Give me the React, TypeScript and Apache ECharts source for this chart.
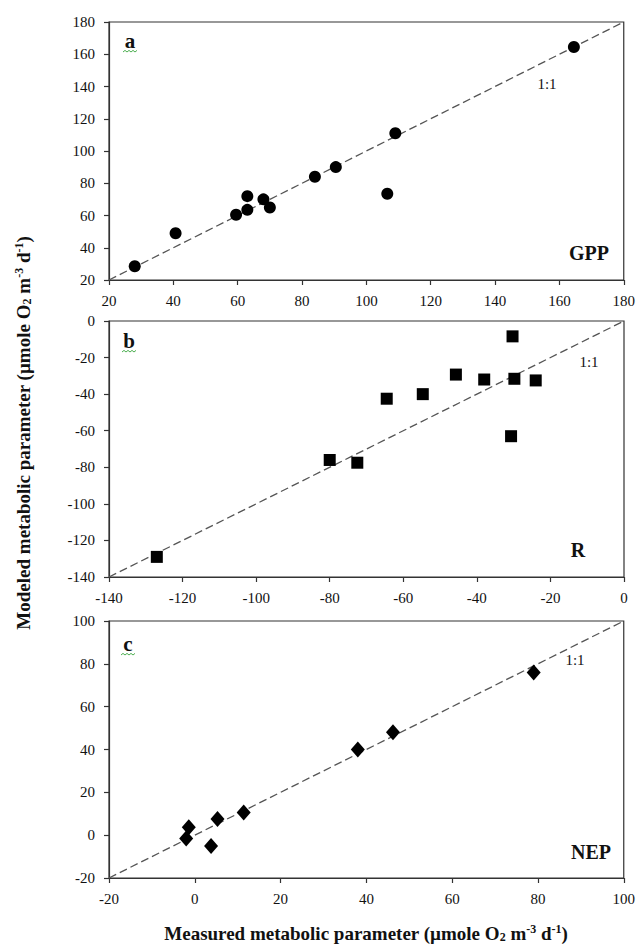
import React, { useEffect, useRef } from "react";
import * as echarts from "echarts";

// ---- data ----
const gppMeasured = [28, 40.7, 59.5, 63, 63, 68, 70, 84, 90.5, 106.5, 109, 164.5];
const gppModeled = [28.5, 49, 60.5, 72, 63.5, 70, 65, 84, 90, 73.5, 111, 164.5];

const rMeasured = [-127, -80, -72.5, -64.5, -54.7, -45.7, -38, -30.3, -29.8, -30.7, -24];
const rModeled = [-129, -76, -77.5, -42.5, -40, -29.3, -32, -8.4, -31.6, -63, -32.5];

const nepMeasured = [-1.4, -2, 3.8, 5.3, 11.4, 38, 46.2, 79];
const nepModeled = [3.7, -1.5, -5, 7.6, 10.6, 40, 48, 76];

const gppRange = [20, 180];
const rRange = [-140, 0];
const nepRange = [-20, 100];
const tickStep = 20;

const panelLetters = ["a", "b", "c"];
const panelNames = ["GPP", "R", "NEP"];
const oneToOneLabel = "1:1";

const FONT = '"Liberation Serif", "Times New Roman", serif';
const INK = "#111";
const AXIS = "#333";

export default function App() {
  const ref = useRef<HTMLDivElement>(null);

  useEffect(() => {
    if (!ref.current) return;
    const chart = echarts.init(ref.current, null, { renderer: "svg" });

    const panels = [
      { m: gppMeasured, p: gppModeled, range: gppRange, symbol: "circle", size: 12, top: 22, height: 258 },
      { m: rMeasured, p: rModeled, range: rRange, symbol: "rect", size: 12, top: 321, height: 256 },
      { m: nepMeasured, p: nepModeled, range: nepRange, symbol: "diamond", size: [14, 16], top: 621, height: 257 },
    ];

    const gridLeft = 109;
    const gridWidth = 515;

    const axisCommon = (i: number, range: number[], margin: number) => ({
      gridIndex: i,
      type: "value",
      min: range[0],
      max: range[1],
      interval: tickStep,
      axisLine: { show: true, onZero: false, lineStyle: { color: AXIS, width: 1.2 } },
      axisTick: { show: true, inside: false, length: 5, lineStyle: { color: AXIS, width: 1.2 } },
      axisLabel: {
        fontSize: 15,
        fontFamily: FONT,
        color: INK,
        margin,
        showMinLabel: true,
        showMaxLabel: true,
      },
      splitLine: { show: false },
    });

    const series: any[] = [];
    panels.forEach((pn, i) => {
      series.push({
        type: "line",
        xAxisIndex: i,
        yAxisIndex: i,
        data: [
          [pn.range[0], pn.range[0]],
          [pn.range[1], pn.range[1]],
        ],
        symbol: "none",
        silent: true,
        lineStyle: { type: [8, 4], color: "#555", width: 1.3 },
        z: 1,
      });
      series.push({
        type: "scatter",
        xAxisIndex: i,
        yAxisIndex: i,
        data: pn.m.map((x, j) => [x, pn.p[j]]),
        symbol: pn.symbol,
        symbolSize: pn.size,
        itemStyle: { color: "#000", opacity: 1 },
        z: 3,
      });
    });

    const letterPos = [
      [130, 41],
      [129, 341],
      [128, 644],
    ];
    const onePos = [
      [547, 84],
      [589, 362],
      [575, 660],
    ];
    const namePos = [
      [589, 253],
      [578, 550],
      [591, 852],
    ];

    const graphics: any[] = [];
    panels.forEach((_, i) => {
      graphics.push({
        type: "text",
        x: letterPos[i][0],
        y: letterPos[i][1],
        style: {
          text: panelLetters[i],
          fontSize: 21,
          fontWeight: "bold",
          fontFamily: FONT,
          fill: INK,
          align: "center",
          verticalAlign: "middle",
        },
      });
      const sx = letterPos[i][0] - 7;
      const sy = letterPos[i][1] + 11;
      const pts: number[][] = [];
      for (let k = 0; k <= 7; k++) pts.push([sx + k * 2, sy + (k % 2 === 0 ? 0 : -1.6)]);
      graphics.push({
        type: "polyline",
        shape: { points: pts },
        style: { stroke: "#4caf50", lineWidth: 1, fill: null },
      });
      graphics.push({
        type: "text",
        x: onePos[i][0],
        y: onePos[i][1],
        style: {
          text: oneToOneLabel,
          fontSize: 15,
          fontFamily: FONT,
          fill: INK,
          align: "center",
          verticalAlign: "middle",
        },
      });
      graphics.push({
        type: "text",
        x: namePos[i][0],
        y: namePos[i][1],
        style: {
          text: panelNames[i],
          fontSize: 20,
          fontWeight: "bold",
          fontFamily: FONT,
          fill: INK,
          align: "center",
          verticalAlign: "middle",
        },
      });
    });

    const rich = {
      n: { fontSize: 19, fontWeight: "bold", fontFamily: FONT, color: INK, lineHeight: 20 },
      sup: { fontSize: 12, fontWeight: "bold", fontFamily: FONT, color: INK, lineHeight: 11, verticalAlign: "top" },
      sub: { fontSize: 12, fontWeight: "bold", fontFamily: FONT, color: INK, lineHeight: 13, verticalAlign: "bottom" },
    };
    const unitText = (lead: string) =>
      `{n|${lead} (µmole O}{sub|2}{n| m}{sup|-3}{n| d}{sup|-1}{n|)}`;

    graphics.push({
      type: "text",
      x: 366,
      y: 933,
      style: {
        text: unitText("Measured metabolic parameter"),
        rich,
        fill: INK,
        align: "center",
        verticalAlign: "middle",
      },
    });
    graphics.push({
      type: "text",
      x: 23,
      y: 433,
      rotation: Math.PI / 2,
      style: {
        text: unitText("Modeled metabolic parameter"),
        rich,
        fill: INK,
        align: "center",
        verticalAlign: "middle",
      },
    });

    chart.setOption({
      animation: false,
      backgroundColor: "#fff",
      grid: panels.map((pn) => ({
        left: gridLeft,
        top: pn.top,
        width: gridWidth,
        height: pn.height,
        show: true,
        borderColor: AXIS,
        borderWidth: 1.2,
        backgroundColor: "transparent",
        containLabel: false,
      })),
      xAxis: panels.map((pn, i) => axisCommon(i, pn.range, 13)),
      yAxis: panels.map((pn, i) => axisCommon(i, pn.range, 14)),
      series,
      graphic: graphics,
    });

    return () => chart.dispose();
  }, []);

  return (
    <div
      ref={ref}
      style={{ position: "fixed", left: 0, top: 0, width: 638, height: 947, background: "#fff" }}
    />
  );
}
